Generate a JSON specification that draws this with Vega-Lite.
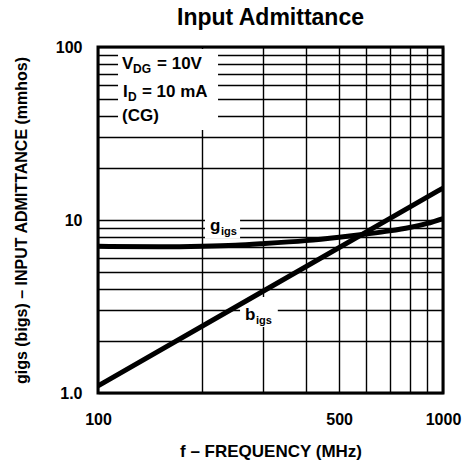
{
  "$schema": "https://vega.github.io/schema/vega-lite/v6.json",
  "width": 345,
  "height": 346,
  "autosize": "none",
  "padding": {"left": 98, "top": 47, "right": 22, "bottom": 74},
  "background": "white",
  "title": {"text": "Input Admittance", "fontSize": 23, "font": "Liberation Sans", "fontWeight": "bold", "color": "black", "offset": 9, "anchor": "middle"},
  "config": {
    "view": {"stroke": "black", "strokeWidth": 3},
    "axis": {"labelFont": "Liberation Sans", "titleFont": "Liberation Sans", "labelColor": "black", "titleColor": "black", "labelFontWeight": "bold", "titleFontWeight": "bold"}
  },
  "datasets": {
    "curves": [
      {"series": "bigs", "f": 100, "v": 1.1},
      {"series": "bigs", "f": 300, "v": 3.86},
      {"series": "bigs", "f": 1000, "v": 15.3},
      {"series": "gigs", "f": 100, "v": 7.05},
      {"series": "gigs", "f": 150, "v": 7.0},
      {"series": "gigs", "f": 200, "v": 7.05},
      {"series": "gigs", "f": 250, "v": 7.15},
      {"series": "gigs", "f": 300, "v": 7.3},
      {"series": "gigs", "f": 400, "v": 7.6},
      {"series": "gigs", "f": 500, "v": 7.95},
      {"series": "gigs", "f": 600, "v": 8.3},
      {"series": "gigs", "f": 700, "v": 8.65},
      {"series": "gigs", "f": 800, "v": 9.05},
      {"series": "gigs", "f": 900, "v": 9.55},
      {"series": "gigs", "f": 1000, "v": 10.2}
    ]
  },
  "layer": [
    {
      "data": {"values": [{}]},
      "mark": {"type": "rect", "fill": "white"},
      "encoding": {
        "x": {"datum": 114.3, "type": "quantitative", "scale": {"type": "log", "domain": [100, 1000], "nice": false},
          "axis": {"values": [100, 200, 300, 400, 500, 600, 700, 800, 900, 1000], "format": "d",
            "labelExpr": "datum.value == 100 || datum.value == 500 || datum.value == 1000 ? datum.label : ''",
            "grid": true, "gridColor": "black", "gridWidth": 1.4, "gridOpacity": 1, "ticks": false, "domain": false,
            "labelFontSize": 16, "labelPadding": 18, "labelFlush": false, "labelOverlap": false,
            "title": "f – FREQUENCY (MHz)", "titleFontSize": 17, "titlePadding": 16}},
        "x2": {"datum": 222.8},
        "y": {"datum": 33.1, "type": "quantitative", "scale": {"type": "log", "domain": [1, 100], "nice": false},
          "axis": {"values": [1, 2, 3, 4, 5, 6, 7, 8, 9, 10, 20, 30, 40, 50, 60, 70, 80, 90, 100],
            "labelExpr": "datum.value == 1 ? '1.0' : datum.value == 10 ? '10' : datum.value == 100 ? '100' : ''",
            "grid": true, "gridColor": "black", "gridWidth": 1.4, "gridOpacity": 1, "ticks": false, "domain": false,
            "labelFontSize": 16, "labelPadding": 16, "labelOverlap": false,
            "title": "gigs (bigs) – INPUT ADMITTANCE (mmhos)", "titleFontSize": 16, "titlePadding": 26}},
        "y2": {"datum": 97.5}
      }
    },
    {
      "data": {"values": [{}]},
      "mark": {"type": "rect", "fill": "white"},
      "encoding": {
        "x": {"datum": 204.2, "type": "quantitative"},
        "x2": {"datum": 258.1},
        "y": {"datum": 7.78, "type": "quantitative"},
        "y2": {"datum": 10.4}
      }
    },
    {
      "data": {"values": [{}]},
      "mark": {"type": "rect", "fill": "white"},
      "encoding": {
        "x": {"datum": 258.1, "type": "quantitative"},
        "x2": {"datum": 332},
        "y": {"datum": 2.41, "type": "quantitative"},
        "y2": {"datum": 3.59}
      }
    },
    {
      "data": {"name": "curves"},
      "mark": {"type": "line", "color": "black", "strokeWidth": 5, "interpolate": "monotone", "clip": true},
      "encoding": {
        "x": {"field": "f", "type": "quantitative"},
        "y": {"field": "v", "type": "quantitative"},
        "detail": {"field": "series"}
      }
    },
    {"data": {"values": [{}]}, "mark": {"type": "text", "text": "V", "font": "Liberation Sans", "fontWeight": "bold", "fontSize": 17, "align": "left", "baseline": "alphabetic", "color": "black"},
      "encoding": {"x": {"datum": 117.4, "type": "quantitative"}, "y": {"datum": 74.6, "type": "quantitative"}}},
    {"data": {"values": [{}]}, "mark": {"type": "text", "text": "DG", "font": "Liberation Sans", "fontWeight": "bold", "fontSize": 12, "align": "left", "baseline": "alphabetic", "color": "black"},
      "encoding": {"x": {"datum": 126.3, "type": "quantitative"}, "y": {"datum": 70.7, "type": "quantitative"}}},
    {"data": {"values": [{}]}, "mark": {"type": "text", "text": "= 10V", "font": "Liberation Sans", "fontWeight": "bold", "fontSize": 17, "align": "left", "baseline": "alphabetic", "color": "black"},
      "encoding": {"x": {"datum": 148.3, "type": "quantitative"}, "y": {"datum": 74.6, "type": "quantitative"}}},
    {"data": {"values": [{}]}, "mark": {"type": "text", "text": "I", "font": "Liberation Sans", "fontWeight": "bold", "fontSize": 17, "align": "left", "baseline": "alphabetic", "color": "black"},
      "encoding": {"x": {"datum": 118.2, "type": "quantitative"}, "y": {"datum": 51.4, "type": "quantitative"}}},
    {"data": {"values": [{}]}, "mark": {"type": "text", "text": "D", "font": "Liberation Sans", "fontWeight": "bold", "fontSize": 12, "align": "left", "baseline": "alphabetic", "color": "black"},
      "encoding": {"x": {"datum": 122.2, "type": "quantitative"}, "y": {"datum": 48.7, "type": "quantitative"}}},
    {"data": {"values": [{}]}, "mark": {"type": "text", "text": "= 10 mA", "font": "Liberation Sans", "fontWeight": "bold", "fontSize": 17, "align": "left", "baseline": "alphabetic", "color": "black"},
      "encoding": {"x": {"datum": 134.1, "type": "quantitative"}, "y": {"datum": 51.4, "type": "quantitative"}}},
    {"data": {"values": [{}]}, "mark": {"type": "text", "text": "(CG)", "font": "Liberation Sans", "fontWeight": "bold", "fontSize": 17, "align": "left", "baseline": "alphabetic", "color": "black"},
      "encoding": {"x": {"datum": 117.4, "type": "quantitative"}, "y": {"datum": 37.4, "type": "quantitative"}}},
    {"data": {"values": [{}]}, "mark": {"type": "text", "text": "g", "font": "Liberation Sans", "fontWeight": "bold", "fontSize": 17, "align": "left", "baseline": "alphabetic", "color": "black"},
      "encoding": {"x": {"datum": 211.2, "type": "quantitative"}, "y": {"datum": 8.64, "type": "quantitative"}}},
    {"data": {"values": [{}]}, "mark": {"type": "text", "text": "igs", "font": "Liberation Sans", "fontWeight": "bold", "fontSize": 11, "align": "left", "baseline": "alphabetic", "color": "black"},
      "encoding": {"x": {"datum": 227.3, "type": "quantitative"}, "y": {"datum": 8.19, "type": "quantitative"}}},
    {"data": {"values": [{}]}, "mark": {"type": "text", "text": "b", "font": "Liberation Sans", "fontWeight": "bold", "fontSize": 17, "align": "left", "baseline": "alphabetic", "color": "black"},
      "encoding": {"x": {"datum": 266.7, "type": "quantitative"}, "y": {"datum": 2.64, "type": "quantitative"}}},
    {"data": {"values": [{}]}, "mark": {"type": "text", "text": "igs", "font": "Liberation Sans", "fontWeight": "bold", "fontSize": 11, "align": "left", "baseline": "alphabetic", "color": "black"},
      "encoding": {"x": {"datum": 287.1, "type": "quantitative"}, "y": {"datum": 2.5, "type": "quantitative"}}}
  ]
}
